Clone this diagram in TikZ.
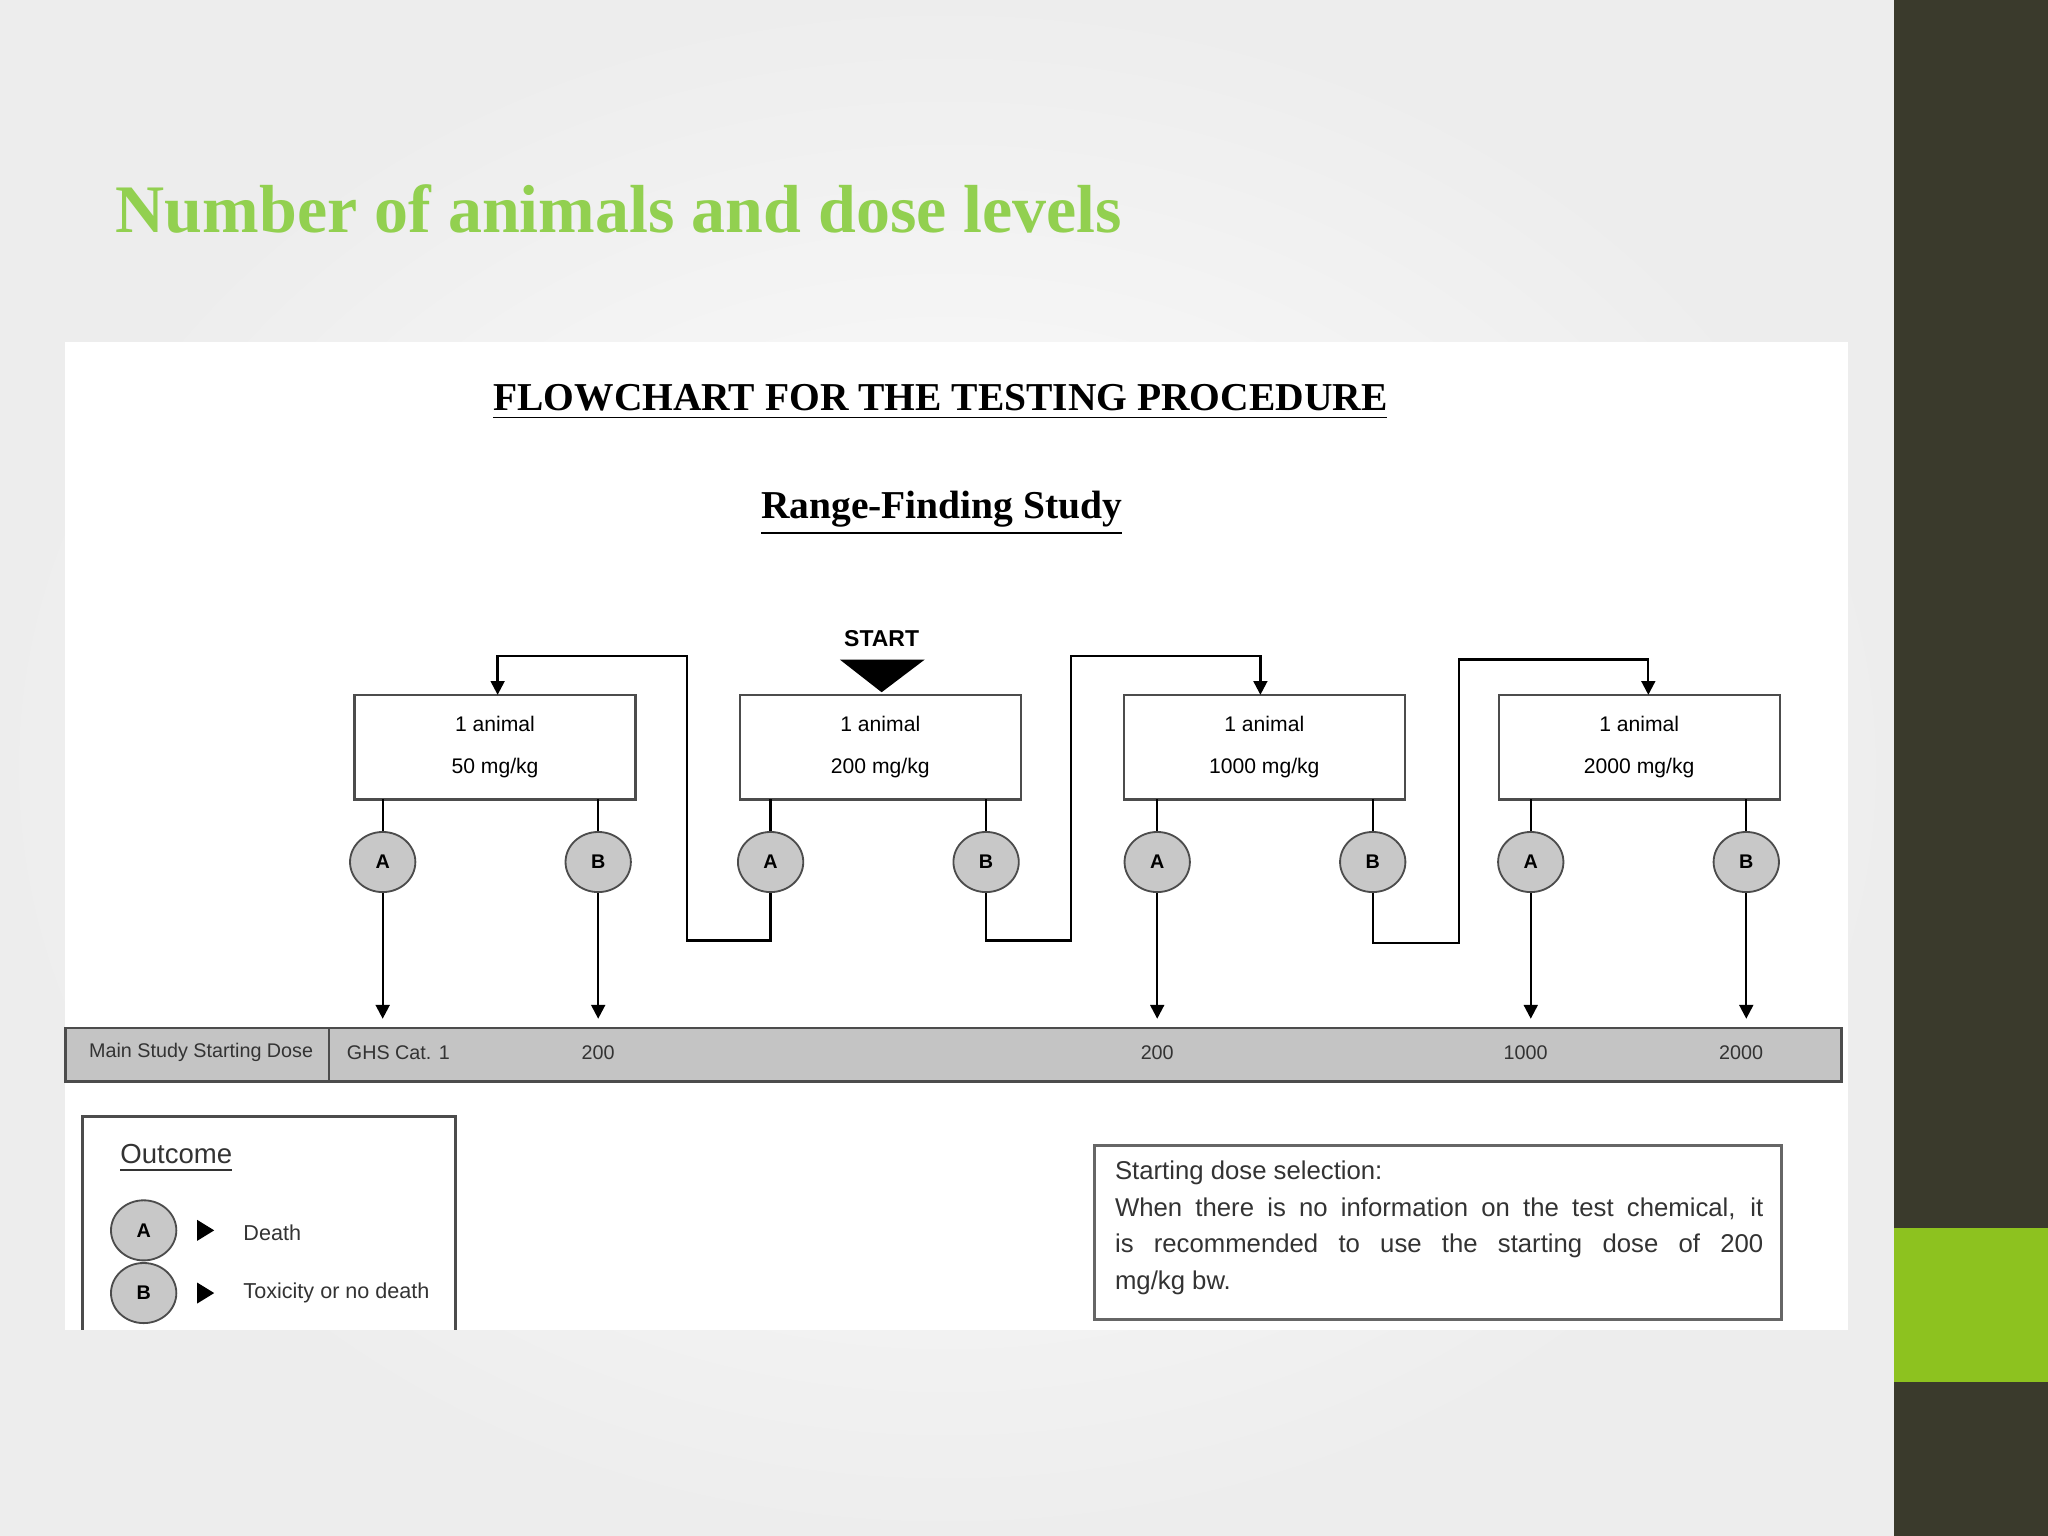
\documentclass[tikz,border=0pt]{standalone}
\usepackage{fontspec}
\setmainfont{Liberation Serif}
\setsansfont{Liberation Sans}
\usetikzlibrary{arrows.meta,shapes.geometric}
\definecolor{ttl}{HTML}{92D050}
\definecolor{dark}{HTML}{3A3A2C}
\definecolor{lime}{HTML}{8DC21F}
\definecolor{bar}{HTML}{C4C4C4}
\definecolor{circ}{HTML}{C8C8C8}
\begin{document}
\begin{tikzpicture}[x=0.01cm,y=-0.01cm,
 boxn/.style={draw=black!70,line width=0.5pt,minimum width=2.15cm,minimum height=0.8cm,align=center,font=\sffamily\fontsize{4.6}{9}\selectfont},
 circn/.style={ellipse,draw=black!70,fill=circ,minimum width=0.5cm,minimum height=0.46cm,inner sep=0,font=\sffamily\bfseries\fontsize{4.3}{5}\selectfont},
 ln/.style={line width=0.5pt},
 arr/.style={line width=0.5pt,-{Triangle[length=3pt,width=3pt]}},
 bt/.style={font=\sffamily\fontsize{4.3}{5}\selectfont,text=black!80}]
\useasboundingbox (0,0) rectangle (1568,1176);
\shade[inner color=white,outer color=black!7] (0,0) rectangle (1450,1176);
\fill[dark] (1450,0) rectangle (1568,1176);
\fill[lime] (1450,940) rectangle (1568,1058);
\node[anchor=west,inner sep=0,text=ttl,font=\bfseries\fontsize{14.8}{16}\selectfont] (title) at (88,160) {Number of animals and dose levels};
\fill[white] (50,262) rectangle (1415,1018);
\node[font=\bfseries\fontsize{8.6}{10}\selectfont] (ft) at (720,308) {\underline{FLOWCHART FOR THE TESTING PROCEDURE}};
\node[font=\bfseries\fontsize{8.6}{10}\selectfont] (rf) at (721,393) {\underline{Range-Finding Study}};
\node[boxn] (b1) at (379,572) {1 animal\\50 mg/kg};
\node[boxn] (b2) at (674,572) {1 animal\\200 mg/kg};
\node[boxn] (b3) at (968,572) {1 animal\\1000 mg/kg};
\node[boxn] (b4) at (1255,572) {1 animal\\2000 mg/kg};
\node[font=\sffamily\bfseries\fontsize{5}{6}\selectfont] (st) at (675,489) {START};
\fill (643,505) -- (708,505) -- (675,530) -- cycle;
\fill[bar] (50,787) rectangle (1410,828);
\draw[black!70,line width=0.6pt] (50,787) rectangle (1410,828);
\draw[black!70,line width=0.5pt] (252,787) -- (252,828);
\node[bt] (m0) at (154,806) {Main Study Starting Dose};
\node[bt] (m1) at (305,806) {GHS Cat. 1};
\node[bt] (m2) at (458,806) {200};
\node[bt] (m3) at (886,806) {200};
\node[bt] (m4) at (1168,806) {1000};
\node[bt] (m5) at (1333,806) {2000};
\foreach \n/\x/\l in {a1/293,c1/458,a2/590,c2/755,a3/886,c3/1051,a4/1172,c4/1337}
  \draw[ln] (\x,612) -- (\x,640);
\foreach \n/\x/\l in {a1/293/A,c1/458/B,a2/590/A,c2/755/B,a3/886/A,c3/1051/B,a4/1172/A,c4/1337/B}
  \node[circn] (\n) at (\x,660) {\l};
\coordinate (e1) at (293,780); \coordinate (e2) at (458,780); \coordinate (e3) at (886,780);
\coordinate (e4) at (1172,780); \coordinate (e5) at (1337,780);
\draw[arr] (a1) -- (e1); \draw[arr] (c1) -- (e2); \draw[arr] (a3) -- (e3);
\draw[arr] (a4) -- (e4); \draw[arr] (c4) -- (e5);
\draw[arr] (a2.south) -- (590,720) -- (526,720) -- (526,502) -- (381,502) -- (381,532);
\draw[arr] (c2.south) -- (755,720) -- (820,720) -- (820,502) -- (965,502) -- (965,532);
\draw[arr] (c3.south) -- (1051,722) -- (1117,722) -- (1117,505) -- (1262,505) -- (1262,532);
\draw[black!70,line width=0.6pt] (63,1018) -- (63,855) -- (349,855) -- (349,1018);
\node[font=\sffamily\fontsize{6}{7}\selectfont,text=black!80] (oc) at (135,887) {\underline{Outcome}};
\node[circn] (la) at (110,942) {A};
\node[circn] (lb) at (110,990) {B};
\fill (151,934) -- (151,950) -- (164,942) -- cycle;
\fill (151,982) -- (151,998) -- (164,990) -- cycle;
\node[bt,anchor=west,font=\sffamily\fontsize{4.7}{6}\selectfont] (ld) at (174,944) {Death};
\node[bt,anchor=west,font=\sffamily\fontsize{4.7}{6}\selectfont] (lt) at (174,990) {Toxicity or no death};
\draw[black!60,line width=0.6pt] (838,877) rectangle (1364,1010);
\node[anchor=north west,text width=4.96cm,align=justify,inner sep=0,font=\sffamily\fontsize{5.6}{8}\selectfont,text=black!80] (sd) at (853,888)
 {Starting dose selection:\\ When there is no information on the test chemical, it\linebreak is recommended to use the starting dose of 200\linebreak mg/kg bw.};
\end{tikzpicture}
\end{document}
